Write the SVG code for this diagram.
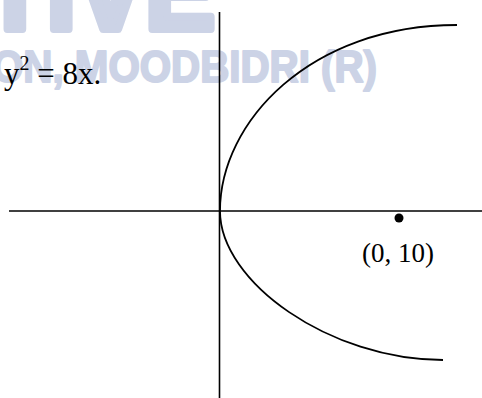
<svg xmlns="http://www.w3.org/2000/svg" width="482" height="398" viewBox="0 0 482 398">
<style>
.wm{font-family:"Liberation Sans",Arial,sans-serif;font-weight:bold;fill:#ccd3e6;stroke:#ccd3e6;stroke-linejoin:round}
.lbl{font-family:"Liberation Serif","Times New Roman",serif;font-size:27px;fill:#000}
.eq{font-family:"Liberation Serif","Times New Roman",serif;font-size:31px;fill:#000}
.ax{stroke:#000;stroke-width:1.6;fill:none}
.cv{stroke:#000;stroke-width:1.8;fill:none}
</style>
<g id="watermark">
<text class="wm" x="-17" y="29" font-size="110" stroke-width="8" textLength="232" lengthAdjust="spacingAndGlyphs">TIVE</text>
<text class="wm" x="-8" y="82" font-size="44" stroke-width="2" textLength="385" lengthAdjust="spacingAndGlyphs">ON, MOODBIDRI (R)</text>
</g>
<g id="connectors">
<line id="y-axis" class="ax" x1="219.5" y1="12" x2="219.5" y2="398"/>
<line id="x-axis" class="ax" x1="9" y1="211" x2="482" y2="211"/>
</g>
<g id="parabola">
<path class="cv" d="M457,25 C310,25 220,122 220,211 C220,282 330,360 443,360"/>
</g>
<g id="point">
<circle cx="399" cy="218" r="4.5" fill="#000"/>
</g>
<g id="label-point">
<text class="lbl" x="362" y="262">(0, 10)</text>
</g>
<g id="label-equation">
<text class="eq" x="4" y="84">y<tspan font-size="20" dy="-14">2</tspan><tspan dy="14"> = 8x.</tspan></text>
</g>
</svg>
